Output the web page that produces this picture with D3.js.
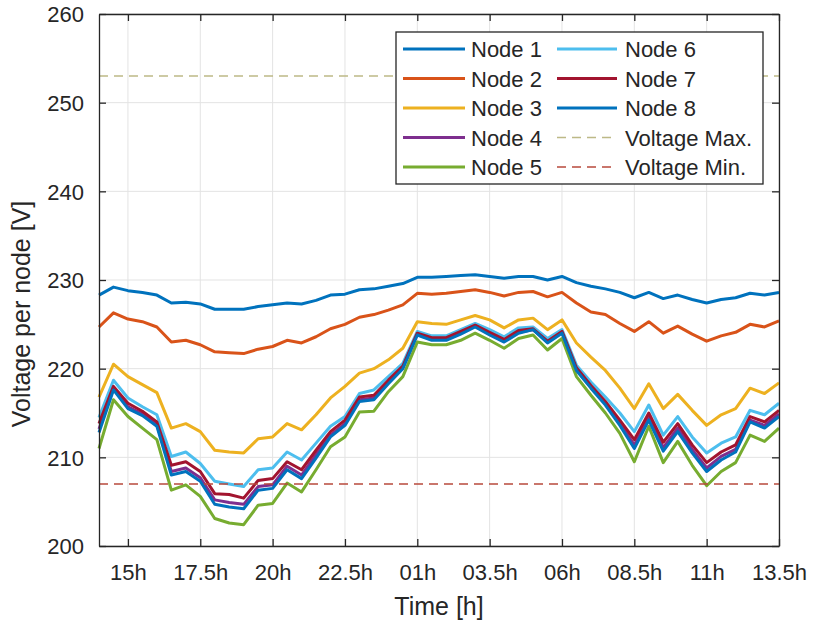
<!DOCTYPE html>
<html><head><meta charset="utf-8">
<script src="https://cdn.jsdelivr.net/npm/d3@7"></script>
<style>body{margin:0;background:#fff}svg{display:block}text{font-family:"Liberation Sans",Arial,Helvetica,sans-serif;fill:#262626}</style>
</head><body><svg id="c" width="813" height="628"></svg>
<script>
const hours = d3.range(14, 37.51, 0.5);
const node1 = [228.3,229.2,228.8,228.6,228.3,227.4,227.5,227.3,226.7,226.7, 226.7,227.0,227.2,227.4,227.3,227.7,228.3,228.4,228.9,229.0, 229.3,229.6,230.3,230.3,230.4,230.5,230.6,230.4,230.2,230.4, 230.4,230.0,230.4,229.7,229.3,229.0,228.6,228.0,228.6,227.9, 228.3,227.8,227.4,227.8,228.0,228.5,228.3,228.6];
const node2 = [224.7,226.3,225.6,225.3,224.7,223.0,223.2,222.7,221.9,221.8, 221.7,222.2,222.5,223.2,222.9,223.6,224.5,225.0,225.8,226.1, 226.6,227.2,228.5,228.4,228.5,228.7,228.9,228.6,228.2,228.6, 228.7,228.1,228.6,227.4,226.4,226.1,225.1,224.2,225.3,224.0, 224.8,223.9,223.1,223.7,224.1,225.0,224.7,225.4];
const node3 = [216.8,220.5,219.1,218.2,217.3,213.3,213.8,212.9,210.8,210.6, 210.5,212.1,212.3,213.8,213.1,214.8,216.7,218.0,219.5,220.0, 221.0,222.3,225.3,225.1,225.0,225.5,226.0,225.5,224.6,225.5, 225.7,224.4,225.5,222.9,221.3,219.8,217.8,215.5,218.3,215.5, 217.1,215.3,213.6,214.8,215.5,217.8,217.2,218.4];
const node4 = [213.2,217.8,215.7,214.9,213.7,208.4,208.8,207.7,205.2,204.9, 204.7,206.7,206.9,209.0,208.0,210.3,212.5,213.8,216.5,216.7, 218.5,220.1,223.9,223.3,223.3,224.0,224.8,223.9,223.1,224.1, 224.4,223.0,224.1,219.9,217.9,216.1,213.8,211.4,214.5,211.1, 213.3,210.9,208.8,210.1,210.9,214.2,213.6,214.9];
const node5 = [211.0,216.5,214.6,213.3,212.0,206.3,206.9,205.6,203.1,202.6, 202.4,204.6,204.8,207.1,206.1,208.6,211.2,212.3,215.1,215.2, 217.4,219.1,223.0,222.7,222.7,223.2,224.0,223.2,222.3,223.4, 223.8,222.1,223.4,219.1,217.0,215.0,212.7,209.5,213.5,209.4, 211.8,209.1,206.8,208.4,209.4,212.5,211.8,213.3];
const node6 = [214.5,218.7,216.7,215.7,214.8,210.1,210.6,209.3,207.3,207.0, 206.7,208.6,208.8,210.6,209.7,211.6,213.5,214.6,217.2,217.6, 219.1,220.6,224.2,223.7,223.7,224.4,225.1,224.4,223.6,224.6, 224.7,223.4,224.4,220.4,218.5,216.8,215.0,212.9,215.9,212.5, 214.6,212.3,210.5,211.6,212.3,215.3,214.8,216.1];
const node7 = [213.8,218.0,216.1,215.2,214.0,209.1,209.5,208.4,205.9,205.8, 205.4,207.4,207.6,209.5,208.6,210.8,212.9,214.2,216.8,217.0, 218.7,220.3,224.0,223.5,223.5,224.2,224.9,224.1,223.3,224.3, 224.5,223.1,224.2,220.1,218.1,216.3,214.2,212.0,215.0,211.7, 213.8,211.4,209.4,210.6,211.4,214.6,214.0,215.3];
const node8 = [212.8,217.6,215.5,214.7,213.5,208.0,208.4,207.3,204.7,204.4, 204.2,206.3,206.5,208.6,207.6,209.9,212.3,213.6,216.3,216.5, 218.3,220.0,223.8,223.2,223.2,223.9,224.7,223.8,223.0,224.0, 224.4,222.9,224.0,219.8,217.8,215.9,213.6,211.0,214.2,210.7, 212.9,210.5,208.4,209.7,210.6,214.0,213.3,214.6];
const voltageMax = 253;
const voltageMin = 207;
const seriesNames = ["Node 1","Node 2","Node 3","Node 4","Node 5","Node 6","Node 7","Node 8"];
const seriesColors = ["#0072BD","#D95319","#EDB120","#7E2F8E","#77AC30","#4DBEEE","#A2142F","#0072BD"];
const limitNames = ["Voltage Max.","Voltage Min."];
const limitColors = ["#bdb987","#b84a3c"];
const xTickValues = [15,17.5,20,22.5,25,27.5,30,32.5,35,37.5];
const xTickLabels = ["15h","17.5h","20h","22.5h","01h","03.5h","06h","08.5h","11h","13.5h"];
const yTickValues = [200,210,220,230,240,250,260];

const series = [node1,node2,node3,node4,node5,node6,node7,node8];
const svg = d3.select("#c");
const L=99,R=779,T=14,B=546;
const x = d3.scaleLinear().domain([14,37.5]).range([L,R]);
const y = d3.scaleLinear().domain([200,260]).range([B,T]);

// grid
const g = svg.append("g");
g.selectAll(".gx").data(xTickValues).enter().append("line")
 .attr("x1",d=>x(d)).attr("x2",d=>x(d)).attr("y1",T).attr("y2",B)
 .attr("stroke","#e3e3e3").attr("stroke-width",1);
g.selectAll(".gy").data(yTickValues).enter().append("line")
 .attr("y1",d=>y(d)).attr("y2",d=>y(d)).attr("x1",L).attr("x2",R)
 .attr("stroke","#e3e3e3").attr("stroke-width",1);

// lines
const line = d3.line().x((d,i)=>x(hours[i])).y(d=>y(d));
series.forEach((s,k)=>{
  svg.append("path").datum(s).attr("d",line).attr("fill","none")
   .attr("stroke",seriesColors[k]).attr("stroke-width",3).attr("stroke-linejoin","round");
});
[voltageMax,voltageMin].forEach((v,k)=>{
  svg.append("line").attr("x1",L).attr("x2",R).attr("y1",y(v)).attr("y2",y(v))
   .attr("stroke",limitColors[k]).attr("stroke-width",1.5).attr("stroke-dasharray","9,6");
});

// axes
const ax = svg.append("g").attr("transform",`translate(0,${B})`)
  .call(d3.axisBottom(x).tickValues(xTickValues).tickFormat((d,i)=>xTickLabels[i]).tickSizeInner(-7).tickSizeOuter(0).tickPadding(18));
const axT = svg.append("g").attr("transform",`translate(0,${T})`)
  .call(d3.axisTop(x).tickValues(xTickValues).tickFormat("").tickSizeInner(-7).tickSizeOuter(0));
const ay = svg.append("g").attr("transform",`translate(${L},0)`)
  .call(d3.axisLeft(y).tickValues(yTickValues).tickSizeInner(-7).tickSizeOuter(0).tickPadding(15));
const ayR = svg.append("g").attr("transform",`translate(${R},0)`)
  .call(d3.axisRight(y).tickValues(yTickValues).tickFormat("").tickSizeInner(-7).tickSizeOuter(0));
[ax,axT,ay,ayR].forEach(a=>{
  a.select(".domain").attr("stroke","#262626").attr("stroke-width",1.3);
  a.selectAll(".tick line").attr("stroke","#262626").attr("stroke-width",1.3);
  a.selectAll("text").attr("font-size",22).attr("fill","#262626")
   .style("font-family",'"Liberation Sans",Arial,sans-serif');
});
ay.selectAll("text").attr("dy","0.36em");

svg.append("text").attr("x",(L+R)/2).attr("y",615).attr("text-anchor","middle")
  .attr("font-size",25).text("Time [h]");
svg.append("text").attr("transform","translate(30,314) rotate(-90)").attr("text-anchor","middle")
  .attr("font-size",25).text("Voltage per node [V]");

// legend
const lg = svg.append("g");
lg.append("rect").attr("x",396).attr("y",32).attr("width",367).attr("height",152)
  .attr("fill","#fff").attr("stroke","#262626").attr("stroke-width",1.3);
const rowY = d3.scalePoint().domain(d3.range(5)).range([49,167]);
const entries = seriesNames.map((n,i)=>({name:n,color:seriesColors[i],dash:null}))
  .concat(limitNames.map((n,i)=>({name:n,color:limitColors[i],dash:"9,6"})));
entries.forEach((e,i)=>{
  const col = i<5?0:1, row = i%5;
  const x0 = col===0?403:557, x1 = col===0?465:617, tx = col===0?471:625;
  const yy = rowY(row);
  lg.append("line").attr("x1",x0).attr("x2",x1).attr("y1",yy).attr("y2",yy)
    .attr("stroke",e.color).attr("stroke-width",e.dash?1.5:3).attr("stroke-dasharray",e.dash);
  lg.append("text").attr("x",tx).attr("y",yy+8).attr("font-size",22).text(e.name);
});
</script></body></html>
